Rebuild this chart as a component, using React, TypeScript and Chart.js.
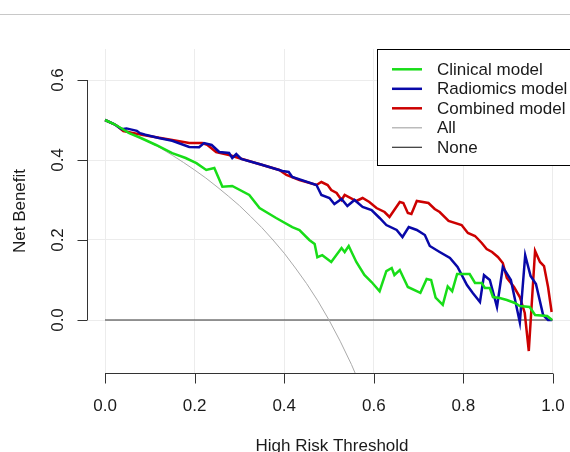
import React, { useEffect, useRef } from 'react';
import { Chart, registerables } from 'chart.js';

Chart.register(...registerables);

// ---- Data ----
const clinicalT = [0, 0.02, 0.04, 0.054, 0.08, 0.114, 0.15, 0.18, 0.204, 0.226, 0.244, 0.262, 0.284, 0.322, 0.345, 0.382, 0.418, 0.434, 0.456, 0.468, 0.474, 0.485, 0.505, 0.528, 0.535, 0.544, 0.561, 0.579, 0.595, 0.613, 0.628, 0.64, 0.646, 0.658, 0.676, 0.704, 0.718, 0.728, 0.738, 0.754, 0.765, 0.775, 0.786, 0.814, 0.826, 0.841, 0.848, 0.859, 0.866, 0.881, 0.897, 0.915, 0.926, 0.948, 0.96, 0.987, 0.998];
const clinicalNB = [0.5, 0.49, 0.477, 0.467, 0.455, 0.4375, 0.417, 0.405, 0.392, 0.375, 0.38, 0.333, 0.335, 0.3125, 0.28, 0.255, 0.232, 0.225, 0.2, 0.19, 0.157, 0.162, 0.145, 0.18, 0.17, 0.185, 0.145, 0.1125, 0.095, 0.072, 0.122, 0.13, 0.1125, 0.125, 0.0825, 0.068, 0.1025, 0.1, 0.056, 0.038, 0.084, 0.072, 0.115, 0.115, 0.0925, 0.0925, 0.08, 0.08, 0.0575, 0.055, 0.05, 0.0425, 0.035, 0.0325, 0.0125, 0.01, 0];

const radiomicsT = [0, 0.02, 0.037, 0.048, 0.071, 0.078, 0.09, 0.12, 0.15, 0.188, 0.21, 0.221, 0.238, 0.255, 0.277, 0.284, 0.293, 0.304, 0.35, 0.396, 0.41, 0.418, 0.472, 0.483, 0.501, 0.512, 0.528, 0.541, 0.557, 0.575, 0.595, 0.613, 0.628, 0.651, 0.664, 0.678, 0.696, 0.714, 0.725, 0.747, 0.77, 0.787, 0.808, 0.821, 0.837, 0.846, 0.859, 0.875, 0.888, 0.906, 0.926, 0.938, 0.95, 0.962, 0.978, 0.989, 0.998];
const radiomicsNB = [0.5, 0.49, 0.477, 0.479, 0.473, 0.467, 0.463, 0.455, 0.448, 0.4325, 0.432, 0.4425, 0.4375, 0.42, 0.4175, 0.405, 0.415, 0.4025, 0.388, 0.3725, 0.37, 0.3575, 0.3375, 0.3125, 0.305, 0.29, 0.3025, 0.285, 0.3, 0.2825, 0.275, 0.255, 0.2375, 0.225, 0.2075, 0.2325, 0.225, 0.2125, 0.185, 0.17, 0.155, 0.1325, 0.0875, 0.0675, 0.045, 0.112, 0.1, 0.0325, 0.1325, 0.1, -0.006, 0.162, 0.11, 0.09, 0.0125, 0, 0];

const combinedT = [0, 0.025, 0.041, 0.085, 0.15, 0.188, 0.217, 0.228, 0.248, 0.277, 0.306, 0.389, 0.405, 0.434, 0.472, 0.483, 0.497, 0.505, 0.517, 0.528, 0.535, 0.561, 0.575, 0.59, 0.606, 0.624, 0.635, 0.658, 0.666, 0.676, 0.684, 0.696, 0.722, 0.736, 0.747, 0.767, 0.796, 0.81, 0.826, 0.841, 0.852, 0.864, 0.877, 0.888, 0.897, 0.913, 0.926, 0.937, 0.946, 0.96, 0.971, 0.98, 0.989, 0.997];
const combinedNB = [0.5, 0.487, 0.472, 0.4625, 0.45, 0.4425, 0.4425, 0.438, 0.42, 0.4125, 0.4025, 0.375, 0.3625, 0.35, 0.3375, 0.345, 0.3375, 0.325, 0.3175, 0.3, 0.3125, 0.2975, 0.305, 0.295, 0.28, 0.27, 0.2575, 0.295, 0.2925, 0.2675, 0.265, 0.2975, 0.2925, 0.2775, 0.27, 0.2475, 0.2375, 0.2175, 0.21, 0.1925, 0.1775, 0.17, 0.1575, 0.1425, 0.105, 0.0825, 0.0575, 0.0175, -0.0775, 0.1725, 0.145, 0.135, 0.0825, 0.02];

const allT = [0, 0.025, 0.05, 0.075, 0.1, 0.125, 0.15, 0.175, 0.2, 0.225, 0.25, 0.275, 0.3, 0.325, 0.35, 0.375, 0.4, 0.425, 0.45, 0.475, 0.5, 0.525, 0.55, 0.575];
const allNB = [0.5, 0.487, 0.474, 0.459, 0.444, 0.429, 0.412, 0.394, 0.375, 0.355, 0.333, 0.31, 0.286, 0.259, 0.231, 0.2, 0.167, 0.13, 0.091, 0.048, 0, -0.053, -0.111, -0.176];

const noneT = [0, 1];
const noneNB = [0, 0];

const xTicks = [0, 0.2, 0.4, 0.6, 0.8, 1.0];
const yTicks = [0, 0.2, 0.4, 0.6];
const seriesLabels = ['Clinical model', 'Radiomics model', 'Combined model', 'All', 'None'];
const seriesColors = ['#18dd18', '#0808a8', '#cc0000', '#aaaaaa', '#333333'];
const seriesWidths = [2.5, 2.5, 2.5, 1, 1.2];

const xTitle = 'High Risk Threshold';
const yTitle = 'Net Benefit';

const FONT = '17px "Liberation Sans", Arial, Helvetica, sans-serif';
const TEXT = '#1a1a1a';

const toPoints = (xs: number[], ys: number[]) => xs.map((x, i) => ({ x, y: ys[i] }));

const rAxesPlugin = {
  id: 'rAxes',
  afterDraw(chart: any) {
    const { ctx, chartArea, scales } = chart;
    const xs = scales.x;
    const ys = scales.y;
    ctx.save();
    ctx.strokeStyle = '#333333';
    ctx.lineWidth = 1;
    // x axis
    const axY = chartArea.bottom + 0.5;
    ctx.beginPath();
    ctx.moveTo(xs.getPixelForValue(xTicks[0]), axY);
    ctx.lineTo(xs.getPixelForValue(xTicks[xTicks.length - 1]), axY);
    xTicks.forEach((v) => {
      const px = Math.round(xs.getPixelForValue(v)) + 0.5;
      ctx.moveTo(px, axY);
      ctx.lineTo(px, axY + 10);
    });
    // y axis
    const axX = chartArea.left - 0.5;
    ctx.moveTo(axX, ys.getPixelForValue(yTicks[0]));
    ctx.lineTo(axX, ys.getPixelForValue(yTicks[yTicks.length - 1]));
    yTicks.forEach((v) => {
      const py = Math.round(ys.getPixelForValue(v)) + 0.5;
      ctx.moveTo(axX, py);
      ctx.lineTo(axX - 10, py);
    });
    ctx.stroke();

    ctx.fillStyle = TEXT;
    ctx.font = FONT;
    ctx.textAlign = 'center';
    ctx.textBaseline = 'alphabetic';
    xTicks.forEach((v) => {
      ctx.fillText(v.toFixed(1), xs.getPixelForValue(v), 411);
    });
    ctx.fillText(xTitle, 332, 451);

    yTicks.forEach((v) => {
      ctx.save();
      ctx.translate(63, ys.getPixelForValue(v));
      ctx.rotate(-Math.PI / 2);
      ctx.fillText(v.toFixed(1), 0, 0);
      ctx.restore();
    });
    ctx.save();
    ctx.translate(25, (chartArea.top + chartArea.bottom) / 2);
    ctx.rotate(-Math.PI / 2);
    ctx.fillText(yTitle, 0, 0);
    ctx.restore();

    // legend box
    const bx = 377.5, by = 49.5, bw = 200, bh = 116;
    ctx.fillStyle = '#ffffff';
    ctx.fillRect(bx, by, bw, bh);
    ctx.strokeStyle = '#000000';
    ctx.lineWidth = 1;
    ctx.strokeRect(bx, by, bw, bh);
    ctx.textAlign = 'left';
    ctx.textBaseline = 'middle';
    seriesLabels.forEach((lab, i) => {
      const y = 69.3 + i * 19.5;
      ctx.strokeStyle = seriesColors[i];
      ctx.lineWidth = i < 3 ? 2.5 : 1.2;
      ctx.beginPath();
      ctx.moveTo(392, y);
      ctx.lineTo(422, y);
      ctx.stroke();
      ctx.fillStyle = TEXT;
      ctx.fillText(lab, 437, y + 1);
    });
    ctx.restore();
  },
};

export default function App() {
  const ref = useRef<HTMLCanvasElement | null>(null);

  useEffect(() => {
    if (!ref.current) return;
    const seriesData = [
      toPoints(clinicalT, clinicalNB),
      toPoints(radiomicsT, radiomicsNB),
      toPoints(combinedT, combinedNB),
      toPoints(allT, allNB),
      toPoints(noneT, noneNB),
    ];
    const chart = new Chart(ref.current, {
      type: 'line',
      data: {
        datasets: seriesData.map((d, i) => ({
          label: seriesLabels[i],
          data: d,
          borderColor: seriesColors[i],
          backgroundColor: seriesColors[i],
          borderWidth: seriesWidths[i],
          pointRadius: 0,
          tension: 0,
          fill: false,
          order: i < 3 ? i : 10 + i,
        })),
      },
      options: {
        animation: false,
        responsive: false,
        maintainAspectRatio: false,
        devicePixelRatio: 1,
        layout: { padding: { left: 88, top: 49, right: 0, bottom: 79 } },
        plugins: { legend: { display: false }, tooltip: { enabled: false } },
        scales: {
          x: {
            type: 'linear',
            min: -0.038,
            max: 1.038,
            afterBuildTicks: (s: any) => { s.ticks = xTicks.map((v) => ({ value: v })); },
            afterFit: (s: any) => { s.height = 0; },
            ticks: { display: false },
            border: { display: false },
            grid: { color: '#ececec', lineWidth: 1, drawTicks: false },
          },
          y: {
            type: 'linear',
            min: -0.1325,
            max: 0.6775,
            afterBuildTicks: (s: any) => { s.ticks = yTicks.map((v) => ({ value: v })); },
            afterFit: (s: any) => { s.width = 0; },
            ticks: { display: false },
            border: { display: false },
            grid: { color: '#ececec', lineWidth: 1, drawTicks: false },
          },
        },
      },
      plugins: [rAxesPlugin],
    });
    return () => chart.destroy();
  }, []);

  return (
    <div style={{ position: 'absolute', left: 0, top: 0, width: 570, height: 452, background: '#fff' }}>
      <div style={{ position: 'absolute', left: 0, top: 14, width: 570, height: 1, background: '#c8c8c8' }} />
      <canvas ref={ref} width={570} height={452} style={{ position: 'absolute', left: 0, top: 0, width: 570, height: 452 }} />
    </div>
  );
}
